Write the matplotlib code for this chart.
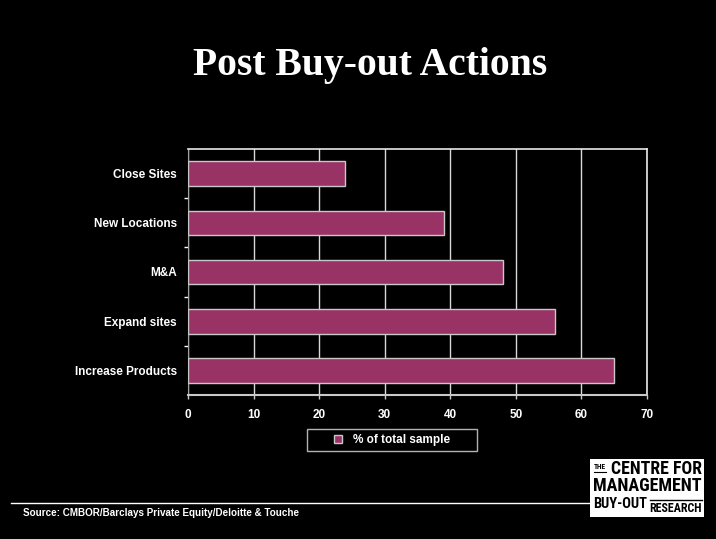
import matplotlib.pyplot as plt
from matplotlib.patches import Rectangle
from matplotlib.lines import Line2D
from matplotlib import font_manager

categories = ["Close Sites", "New Locations", "M&A", "Expand sites", "Increase Products"]
values = [24, 39, 48, 56, 65]
xticks = [0, 10, 20, 30, 40, 50, 60, 70]
series_name = "% of total sample"
source = "Source: CMBOR/Barclays Private Equity/Deloitte & Touche"

bar_color = "#993366"
edge_color = "#c8c8c8"
sans = ["Liberation Sans", "DejaVu Sans"]

# condensed face for the logo lettering, if one is around
names = {f.name for f in font_manager.fontManager.ttflist}
narrow = "DejaVu Sans"
for cand in ["Liberation Sans Narrow", "Roboto Condensed", "DejaVu Sans Condensed", "Open Sans Condensed"]:
    if cand in names:
        narrow = cand
        break

fig = plt.figure(figsize=(7.16, 5.39), dpi=100, facecolor="black")
ax = fig.add_axes([188 / 716, 1 - 395 / 539, 459 / 716, 246 / 539], facecolor="black")

pos = list(range(len(categories)))
ax.barh(pos, values, height=0.5, color=bar_color, edgecolor=edge_color, linewidth=1, zorder=3)
ax.set_ylim(len(categories) - 0.5, -0.5)
ax.set_xlim(0, 70)

ax.set_xticks(xticks)
ax.set_xticklabels([str(t) for t in xticks])
ax.set_yticks(pos)
ax.set_yticklabels(categories)
ax.set_yticks([p + 0.5 for p in pos[:-1]], minor=True)

for lab in ax.get_xticklabels() + ax.get_yticklabels():
    lab.set_fontfamily(sans)
    lab.set_fontweight("bold")
    lab.set_fontsize(8.5)
    lab.set_color("white")

ax.tick_params(axis="y", which="major", length=0, pad=8)
ax.tick_params(axis="y", which="minor", length=3, color="white", width=1, direction="out")
ax.tick_params(axis="x", length=3, color=edge_color, width=1, direction="out", pad=7)

ax.grid(axis="x", color="#d8d8d8", linewidth=1, zorder=1)
ax.set_axisbelow(True)
for side in ["top", "right"]:
    ax.spines[side].set_color("#e8e8e8")
    ax.spines[side].set_linewidth(1.2)
ax.spines["left"].set_color("#a0a0a0")
ax.spines["bottom"].set_color(edge_color)
ax.spines["bottom"].set_linewidth(1.5)

# title
fig.text(370 / 716, 1 - 66 / 539, "Post Buy-out Actions", ha="center", va="center",
         color="white", fontsize=28.5, fontweight="bold", family=["Liberation Serif", "DejaVu Serif"])

# legend box
leg = ax.legend([Rectangle((0, 0), 1, 1, facecolor=bar_color, edgecolor=edge_color, linewidth=1)],
                [series_name], loc="center", bbox_to_anchor=(392 / 716, 1 - 440 / 539),
                bbox_transform=fig.transFigure, frameon=True, fancybox=False,
                handlelength=0.7, handleheight=0.7, handletextpad=0.9, borderpad=0.4,
                borderaxespad=0, prop={"family": sans, "weight": "bold", "size": 8.5})
leg.get_frame().set_facecolor("black")
leg.get_frame().set_edgecolor("#e0e0e0")
leg.get_frame().set_linewidth(1)
for t in leg.get_texts():
    t.set_color("white")
leg._legend_box.set_width(160)

# footer rule and source
fig.add_artist(Line2D([11 / 716, 590 / 716], [1 - 503 / 539] * 2, color="white", linewidth=1))
fig.text(23 / 716, 1 - 513 / 539, source, ha="left", va="center", color="white",
         fontsize=7.1, fontweight="bold", family=sans)

# logo block
fig.add_artist(Rectangle((590 / 716, 1 - 517 / 539), 114 / 716, 58 / 539,
                         facecolor="white", edgecolor="none", transform=fig.transFigure))
logo = [
    # text, x, y, ha, size, width in px
    ("THE", 594, 467, "left", 5, 12),
    ("CENTRE FOR", 702, 469, "right", 12, 91),
    ("MANAGEMENT", 647, 486, "center", 13, 108),
    ("BUY-OUT", 593, 504, "left", 13, 54),
    ("RESEARCH", 702, 508, "right", 7, 52),
]
fig.canvas.draw()
renderer = fig.canvas.get_renderer()
for text, x, y, ha, size, w in logo:
    t = fig.text(x / 716, 1 - y / 539, text, ha=ha, va="center", color="black",
                 fontsize=size, fontweight="bold", family=narrow, fontstretch="condensed")
    cur = t.get_window_extent(renderer).width
    t.set_fontsize(size * w / cur)
fig.add_artist(Line2D([594 / 716, 606 / 716], [1 - 472 / 539] * 2, color="black", linewidth=0.8))
fig.add_artist(Line2D([650 / 716, 702 / 716], [1 - 500 / 539] * 2, color="black", linewidth=1))

fig.savefig("out.png", dpi=100, facecolor="black")
